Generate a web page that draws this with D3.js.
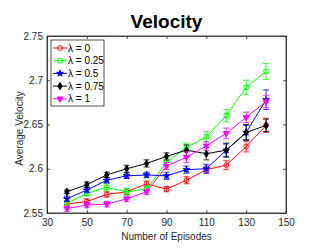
<!DOCTYPE html>
<html>
<head>
<meta charset="utf-8">
<script src="https://cdn.jsdelivr.net/npm/d3@7"></script>
<style>
  body { margin: 0; background: #fff; }
  text { font-family: "Liberation Sans", Arial, sans-serif; }
</style>
</head>
<body>
<div id="chart"></div>
<script>
var episodes = [40, 50, 60, 70, 80, 90, 100, 110, 120, 130, 140];
var seriesNames = ["\u03bb = 0", "\u03bb = 0.25", "\u03bb = 0.5", "\u03bb = 0.75", "\u03bb = 1"];

var vel0   = [2.560, 2.563, 2.571, 2.574, 2.583, 2.577, 2.587, 2.599, 2.604, 2.625, 2.649];
var vel025 = [2.561, 2.572, 2.579, 2.574, 2.577, 2.607, 2.624, 2.636, 2.660, 2.692, 2.710];
var vel05  = [2.566, 2.576, 2.587, 2.592, 2.593, 2.592, 2.599, 2.600, 2.621, 2.641, 2.678];
var vel075 = [2.574, 2.582, 2.593, 2.600, 2.606, 2.614, 2.621, 2.617, 2.621, 2.641, 2.649];
var vel1   = [2.555, 2.559, 2.560, 2.566, 2.574, 2.603, 2.613, 2.626, 2.640, 2.658, 2.676];

var err0   = [0.003, 0.003, 0.003, 0.003, 0.003, 0.003, 0.004, 0.004, 0.005, 0.006, 0.008];
var err025 = [0.003, 0.003, 0.004, 0.004, 0.004, 0.005, 0.005, 0.006, 0.007, 0.008, 0.009];
var err05  = [0.003, 0.003, 0.003, 0.003, 0.003, 0.004, 0.004, 0.005, 0.007, 0.008, 0.011];
var err075 = [0.002, 0.003, 0.003, 0.004, 0.004, 0.004, 0.006, 0.007, 0.008, 0.009, 0.007];
var err1   = [0.003, 0.003, 0.003, 0.003, 0.003, 0.004, 0.006, 0.005, 0.006, 0.006, 0.007];

var xTicks = [30, 50, 70, 90, 110, 130, 150];
var yTicks = [2.55, 2.6, 2.65, 2.7, 2.75];

var colors = ["#ff0000", "#00ff00", "#0000ff", "#000000", "#ff00ff"];
var symbols = [d3.symbolCircle, d3.symbolSquare, d3.symbolStar, d3.symbolDiamond, d3.symbolTriangle];
var symSizes = [18, 18, 14, 16, 16];
var filled = [false, false, true, true, true];

var series = [vel0, vel025, vel05, vel075, vel1].map(function(v, i) {
  var errs = [err0, err025, err05, err075, err1][i];
  return {
    name: seriesNames[i], color: colors[i], i: i,
    values: episodes.map(function(e, j) { return {ep: e, v: v[j], err: errs[j]}; })
  };
});

var svg = d3.select("#chart").append("svg")
            .attr("width", 324)
            .attr("height", 250);

var margin = {top: 36, right: 38, bottom: 37, left: 47};
var width = 324 - margin.left - margin.right;
var height = 250 - margin.top - margin.bottom;

var x = d3.scaleLinear().domain([30, 150]).range([0, width]);
var y = d3.scaleLinear().domain([2.55, 2.75]).range([height, 0]);

var g = svg.append("g").attr("transform", "translate(" + margin.left + "," + margin.top + ")");

var axisColor = "#262626";

// axes with inward ticks (box style)
var xAxis = g.append("g")
    .attr("transform", "translate(0," + height + ")")
    .call(d3.axisBottom(x).tickValues(xTicks).tickFormat(d3.format("d"))
        .tickSizeInner(-3).tickSizeOuter(0).tickPadding(6));
var yAxis = g.append("g")
    .call(d3.axisLeft(y).tickValues(yTicks).tickFormat(function(d){ return d3.format("")(+d.toFixed(2)); })
        .tickSizeInner(-3).tickSizeOuter(0).tickPadding(4));
var xTop = g.append("g")
    .call(d3.axisTop(x).tickValues(xTicks).tickFormat("").tickSizeInner(-3).tickSizeOuter(0));
var yRight = g.append("g")
    .attr("transform", "translate(" + width + ",0)")
    .call(d3.axisRight(y).tickValues(yTicks).tickFormat("").tickSizeInner(-3).tickSizeOuter(0));

[xAxis, yAxis, xTop, yRight].forEach(function(a) {
  a.selectAll("path, line").attr("stroke", axisColor).attr("stroke-width", 0.8);
  a.selectAll("text").attr("fill", axisColor).style("font-size", "10px")
      .style("font-family", "'Liberation Sans', Arial, sans-serif");
});

var line = d3.line()
    .x(function(d){ return x(d.ep); })
    .y(function(d){ return y(d.v); });

var sg = g.selectAll(".series").data(series).enter().append("g").attr("class", "series");

// error bars, lines, markers
sg.each(function(s) {
  var el = d3.select(this);
  var eb = el.selectAll(".eb").data(s.values).enter().append("g")
      .attr("stroke", s.color).attr("stroke-width", 0.8);
  eb.append("line")
      .attr("x1", function(d){ return x(d.ep); }).attr("x2", function(d){ return x(d.ep); })
      .attr("y1", function(d){ return y(d.v - d.err); }).attr("y2", function(d){ return y(d.v + d.err); });
  eb.append("line")
      .attr("x1", function(d){ return x(d.ep) - 3; }).attr("x2", function(d){ return x(d.ep) + 3; })
      .attr("y1", function(d){ return y(d.v - d.err); }).attr("y2", function(d){ return y(d.v - d.err); });
  eb.append("line")
      .attr("x1", function(d){ return x(d.ep) - 3; }).attr("x2", function(d){ return x(d.ep) + 3; })
      .attr("y1", function(d){ return y(d.v + d.err); }).attr("y2", function(d){ return y(d.v + d.err); });

  el.append("path")
      .attr("d", line(s.values))
      .attr("fill", "none")
      .attr("stroke", s.color)
      .attr("stroke-width", 1);

  el.selectAll(".mk").data(s.values).enter().append("path")
      .attr("transform", function(d){
        var r = s.i === 4 ? " rotate(180)" : "";
        return "translate(" + x(d.ep) + "," + y(d.v) + ")" + r;
      })
      .attr("d", d3.symbol().type(symbols[s.i]).size(symSizes[s.i]))
      .attr("fill", filled[s.i] ? s.color : "none")
      .attr("stroke", s.color)
      .attr("stroke-width", 0.9);
});

// box
g.append("rect").attr("width", width).attr("height", height)
    .attr("fill", "none").attr("stroke", axisColor).attr("stroke-width", 0.8);

// legend
var legend = g.append("g").attr("transform", "translate(4,4)");
legend.append("rect")
    .attr("width", 53).attr("height", 66)
    .attr("fill", "#fff").attr("stroke", axisColor).attr("stroke-width", 0.8);
var rows = legend.selectAll(".row").data(series).enter().append("g")
    .attr("transform", function(d, i){ return "translate(0," + (8 + i * 12.7) + ")"; });
rows.append("line")
    .attr("x1", 2).attr("x2", 16).attr("y1", 0).attr("y2", 0)
    .attr("stroke", function(d){ return d.color; }).attr("stroke-width", 1);
rows.append("path")
    .attr("transform", function(d){ return "translate(9,0)" + (d.i === 4 ? " rotate(180)" : ""); })
    .attr("d", function(d){ return d3.symbol().type(symbols[d.i]).size(symSizes[d.i])(); })
    .attr("fill", function(d){ return filled[d.i] ? d.color : "none"; })
    .attr("stroke", function(d){ return d.color; }).attr("stroke-width", 0.9);
rows.append("text")
    .attr("x", 17).attr("y", 3.5)
    .style("font-size", "10px")
    .attr("fill", "#000")
    .text(function(d){ return d.name; });

// title and labels
svg.append("text")
    .attr("x", margin.left + width / 2).attr("y", 28)
    .attr("text-anchor", "middle")
    .style("font-size", "19px").style("font-weight", "bold")
    .text("Velocity");

svg.append("text")
    .attr("x", margin.left + width / 2).attr("y", 240)
    .attr("text-anchor", "middle")
    .style("font-size", "10px").attr("fill", axisColor)
    .text("Number of Episodes");

svg.append("text")
    .attr("text-anchor", "middle")
    .attr("transform", "translate(23," + (margin.top + height / 2 + 4) + ")rotate(-90)")
    .style("font-size", "10px").attr("fill", axisColor)
    .text("Average Velocity");
</script>
</body>
</html>
